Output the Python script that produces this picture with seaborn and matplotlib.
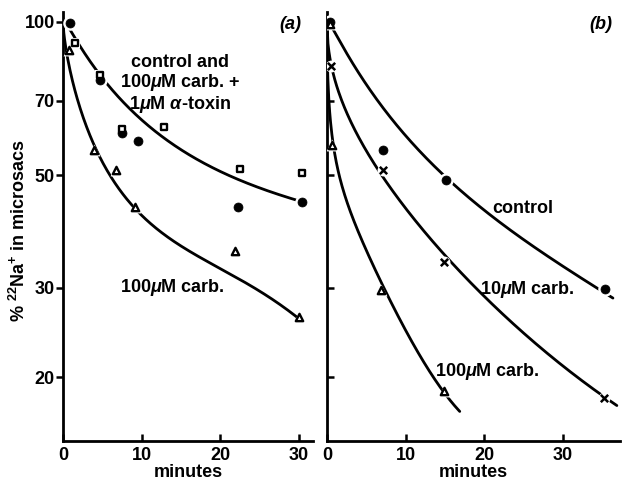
import numpy as np
import pandas as pd
import matplotlib
matplotlib.use("Agg")
import matplotlib.pyplot as plt
import seaborn as sns
from matplotlib.ticker import FixedLocator, NullLocator, FixedFormatter

# ---- panel (a): measured points ----
a_ctrl_t = [0.9, 4.7, 7.5, 9.5, 22.3, 30.4]
a_ctrl_y = [99.7, 77.0, 60.6, 58.3, 43.2, 44.2]
a_tox_t = [1.5, 4.7, 7.5, 12.8, 22.5, 30.4]
a_tox_y = [91.1, 78.8, 61.5, 62.2, 51.3, 50.4]
a_carb_t = [0.7, 4.0, 6.8, 9.2, 21.9, 30.0]
a_carb_y = [87.9, 56.1, 51.2, 43.2, 35.4, 26.3]

# panel (a): fitted curves
a_fit1_t = [0, 0.68, 1.53, 3.2, 4.5, 7.5, 11.1, 15.3, 19.6, 23.9, 28.1, 30.4]
a_fit1_y = [100, 97.9, 92.2, 85.5, 79.4, 69.8, 62.3, 55.3, 51.3, 48.0, 45.5, 44.2]
a_fit2_t = [0, 0.89, 1.53, 2.38, 3.66, 4.93, 6.2, 11.1, 15.3, 19.6, 23.8, 28.1, 30.0]
a_fit2_y = [100, 84.2, 72.5, 64.3, 57.9, 52.9, 49.8, 41.0, 36.3, 32.7, 29.9, 27.5, 26.3]

# ---- panel (b): measured points ----
b_ctrl_t = [0.4, 7.15, 15.2, 35.4]
b_ctrl_y = [100, 55.9, 48.9, 29.8]
b_c10_t = [0.5, 7.07, 14.9, 35.2]
b_c10_y = [81.9, 51.2, 33.8, 18.2]
b_c100_t = [0.4, 0.68, 6.93, 14.94]
b_c100_y = [99, 57.4, 29.7, 18.8]

# panel (b): fitted curves
b_fit_ctrl_t = [0, 0.47, 3.2, 7.0, 11.5, 15.2, 19.4, 23.7, 27.9, 32.2, 36.4]
b_fit_ctrl_y = [100, 97.2, 84.2, 68.3, 56.5, 48.9, 43.2, 38.6, 35.0, 31.8, 28.4]
b_fit_c10_t = [0, 0.6, 2.39, 4.09, 5.58, 7.5, 10.9, 13.45, 17.3, 20.3, 24.5, 28.8, 33.0, 36.9]
b_fit_c10_y = [100, 79.9, 67.3, 59.6, 53.7, 49.5, 41.6, 36.3, 31.3, 28.6, 25.0, 22.1, 19.6, 17.4]
b_fit_c100_t = [0, 0.68, 1.1, 2.81, 3.67, 6.93, 10.9, 14.94, 16.9]
b_fit_c100_y = [100, 57.4, 54.5, 44.9, 39.2, 29.7, 23.8, 18.8, 17.0]

yticks = [20, 30, 50, 70, 100]

sns.set_style("ticks")
plt.rcParams["font.family"] = ["Liberation Sans", "DejaVu Sans"]
plt.rcParams["font.weight"] = "bold"
plt.rcParams["mathtext.fontset"] = "custom"
plt.rcParams["mathtext.rm"] = "Liberation Sans:bold"
plt.rcParams["mathtext.it"] = "Liberation Sans:italic:bold"
plt.rcParams["mathtext.bf"] = "Liberation Sans:bold"
for k in ["text.color", "axes.labelcolor", "xtick.color", "ytick.color",
          "axes.edgecolor"]:
    plt.rcParams[k] = "black"
FS = 13


def smooth(t, y, deg=4):
    # smooth curve through the read-off curve points (log y vs sqrt t)
    s = np.sqrt(np.asarray(t, float))
    c = np.polyfit(s, np.log10(y), deg)
    tt = np.linspace(min(t), max(t), 300)
    return pd.DataFrame({"t": tt, "y": 10 ** np.polyval(c, np.sqrt(tt))})


def curve(ax, t, y, deg=4):
    d = smooth(t, y, deg)
    sns.lineplot(data=d, x="t", y="y", ax=ax, color="black", lw=2.0,
                 sort=False, estimator=None, zorder=2)


def pts(ax, t, y, marker, kind, s):
    d = pd.DataFrame({"t": t, "y": y})
    # white halo so the curve breaks around each symbol
    halo = "o" if marker == "x" else marker
    sns.scatterplot(data=d, x="t", y="y", ax=ax, marker=halo, s=s * 2.6,
                    color="white", edgecolor="white", linewidth=0, zorder=4)
    if kind == "filled":
        sns.scatterplot(data=d, x="t", y="y", ax=ax, marker=marker, s=s,
                        color="black", edgecolor="black", linewidth=0.5, zorder=5)
    elif kind == "line":
        sns.scatterplot(data=d, x="t", y="y", ax=ax, marker=marker, s=s,
                        color="black", linewidth=1.8, zorder=5)
    else:
        sns.scatterplot(data=d, x="t", y="y", ax=ax, marker=marker, s=s,
                        facecolor="white", edgecolor="black", linewidth=1.7, zorder=5)


def style(ax, xmax, ylabels):
    ax.set_yscale("log")
    ax.set_ylim(15, 104.6)
    ax.set_xlim(0, xmax)
    ax.yaxis.set_major_locator(FixedLocator(yticks))
    ax.yaxis.set_minor_locator(NullLocator())
    if ylabels:
        ax.yaxis.set_major_formatter(FixedFormatter([str(v) for v in yticks]))
        ax.tick_params(axis="y", direction="out", length=5, width=1.8, pad=1,
                       labelsize=FS)
    else:
        ax.yaxis.set_major_formatter(FixedFormatter([""] * len(yticks)))
        ax.tick_params(axis="y", direction="in", length=5, width=1.8)
    ax.set_xticks([0, 10, 20, 30])
    ax.tick_params(axis="x", direction="in", length=5, width=1.8, pad=4,
                   labelsize=FS)
    for sp in ["top", "right"]:
        ax.spines[sp].set_visible(False)
    for sp in ["left", "bottom"]:
        ax.spines[sp].set_linewidth(2.0)
    ax.set_xlabel("minutes", fontsize=FS, fontweight="bold", labelpad=0)
    ax.set_ylabel("")


fig = plt.figure(figsize=(6.22, 4.84), dpi=100)
axa = fig.add_axes([63 / 622, 43 / 484, 250 / 622, 429 / 484])
axb = fig.add_axes([327 / 622, 43 / 484, 293 / 622, 429 / 484])

# panel (a)
curve(axa, a_fit1_t, a_fit1_y)
curve(axa, a_fit2_t, a_fit2_y)
pts(axa, a_ctrl_t, a_ctrl_y, "o", "filled", 42)
pts(axa, a_tox_t, a_tox_y, "s", "open", 20)
pts(axa, a_carb_t, a_carb_y, "^", "open", 28)
style(axa, 31.8, True)
axa.set_ylabel(r"% $^{22}$Na$^{+}$ in microsacs", fontsize=FS, fontweight="bold")
axa.yaxis.set_label_coords(-0.135, 0.49)
axa.text(28.9, 98.7, "(a)", fontsize=FS, fontweight="bold", style="italic",
         ha="center", va="center")
axa.text(14.9, 75.3, "control and\n100$\\mu$M carb. +\n1$\\mu$M $\\alpha$-toxin",
         fontsize=FS, ha="center", va="center", multialignment="center",
         linespacing=1.05)
axa.text(13.9, 30.0, "100$\\mu$M carb.", fontsize=FS, ha="center", va="center")

# panel (b)
curve(axb, b_fit_ctrl_t, b_fit_ctrl_y)
curve(axb, b_fit_c10_t, b_fit_c10_y)
curve(axb, b_fit_c100_t, b_fit_c100_y)
pts(axb, b_ctrl_t, b_ctrl_y, "o", "filled", 42)
pts(axb, b_c10_t, b_c10_y, "x", "line", 28)
pts(axb, b_c100_t, b_c100_y, "^", "open", 28)
style(axb, 37.3, False)
axb.text(34.9, 98.7, "(b)", fontsize=FS, fontweight="bold", style="italic",
         ha="center", va="center")
axb.text(24.9, 42.9, "control", fontsize=FS, ha="center", va="center")
axb.text(25.5, 29.8, "10$\\mu$M carb.", fontsize=FS, ha="center", va="center")
axb.text(20.4, 20.5, "100$\\mu$M carb.", fontsize=FS, ha="center", va="center")

fig.savefig("out.png", dpi=100)
